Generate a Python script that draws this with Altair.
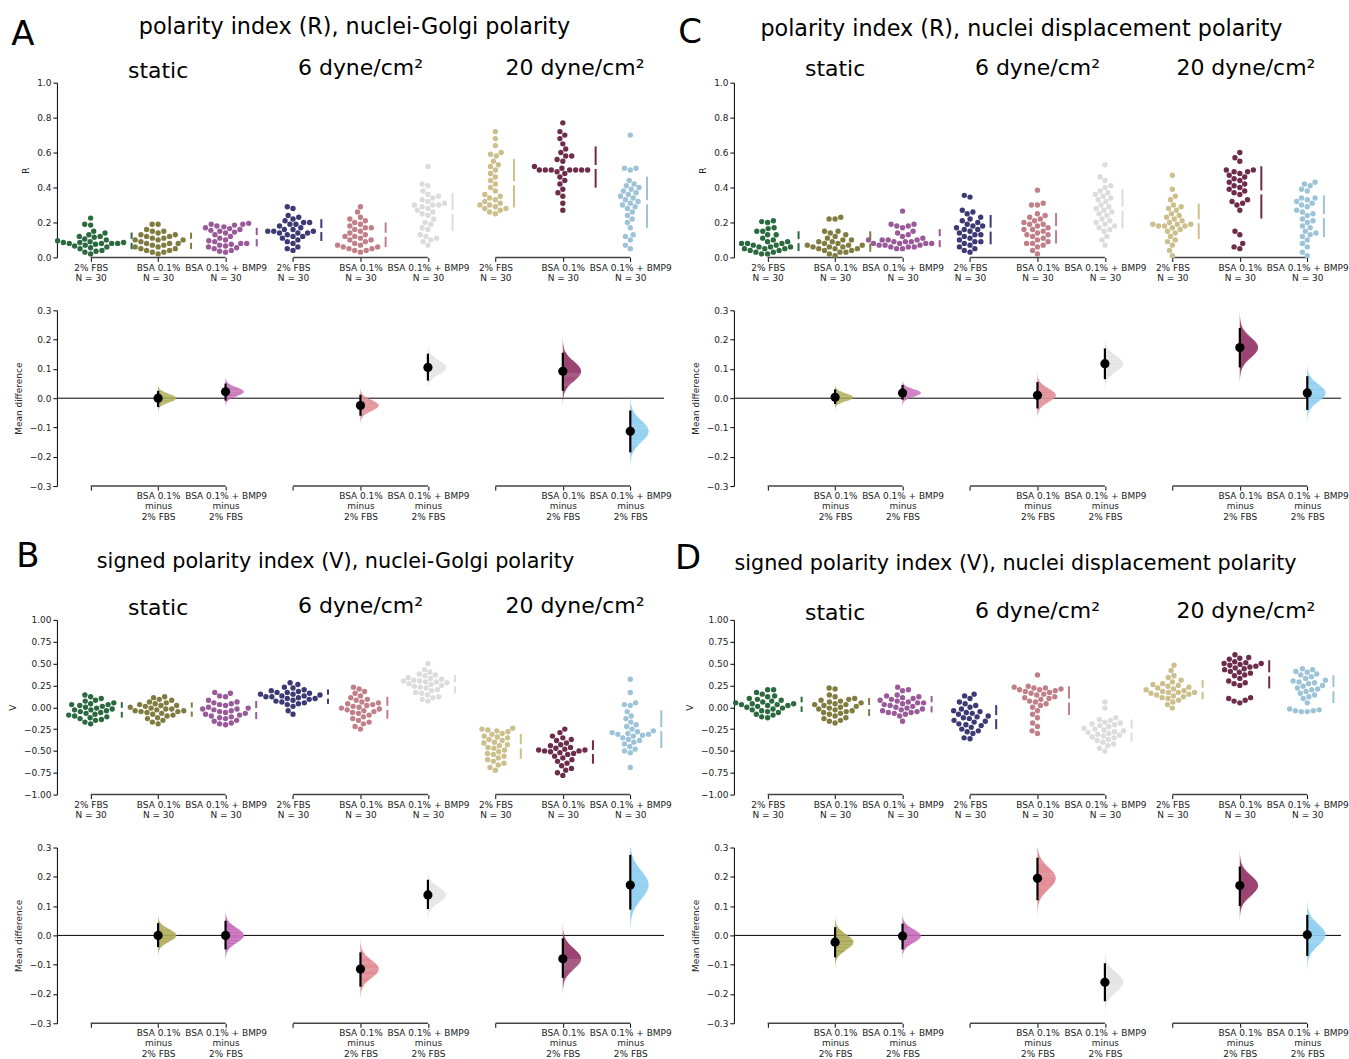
import math
import altair as alt
import pandas as pd

# ---------------- data ----------------
GROUPS = ["2% FBS", "BSA 0.1%", "BSA 0.1% + BMP9"]
CONDITIONS = ["static", "6 dyne/cm²", "20 dyne/cm²"]
N_PER_GROUP = [30, 30, 30, 30, 30, 30, 30, 30, 30]
SWARM_COLORS = ["#2b6a3e", "#807c40", "#9a5a9a", "#3d3975", "#c17f88",
                "#dcdcdc", "#cdbf8c", "#6d2c4b", "#9dc3d8"]
TESTED_IDX = [1, 2, 4, 5, 7, 8]
DIFF_COLORS = ["#aeac5a", "#c66cb9", "#e28f97", "#e4e4e4", "#9c4472", "#95d1f1"]

# Panel A: polarity index (R), nuclei-Golgi polarity
A_static_fbs = [0.225, 0.19, 0.185, 0.15, 0.14, 0.13, 0.12, 0.12, 0.115, 0.105,
                0.10, 0.095, 0.09, 0.085, 0.085, 0.085, 0.08, 0.08, 0.08, 0.08,
                0.075, 0.07, 0.065, 0.06, 0.055, 0.05, 0.04, 0.035, 0.03, 0.02]
A_static_bsa = [0.19, 0.19, 0.16, 0.15, 0.15, 0.14, 0.13, 0.13, 0.12, 0.12,
                0.11, 0.11, 0.10, 0.10, 0.10, 0.09, 0.08, 0.08, 0.08, 0.07,
                0.07, 0.06, 0.06, 0.05, 0.05, 0.04, 0.04, 0.03, 0.03, 0.02]
A_static_bmp = [0.195, 0.19, 0.19, 0.185, 0.18, 0.175, 0.17, 0.165, 0.16, 0.155,
                0.15, 0.145, 0.14, 0.13, 0.12, 0.11, 0.10, 0.095, 0.09, 0.08,
                0.08, 0.075, 0.07, 0.065, 0.06, 0.055, 0.05, 0.04, 0.035, 0.03]
A_6_fbs = [0.29, 0.28, 0.24, 0.23, 0.22, 0.21, 0.20, 0.20, 0.19, 0.19,
           0.18, 0.17, 0.16, 0.16, 0.15, 0.15, 0.15, 0.14, 0.14, 0.14,
           0.13, 0.12, 0.12, 0.11, 0.10, 0.09, 0.08, 0.06, 0.05, 0.04]
A_6_bsa = [0.29, 0.26, 0.23, 0.22, 0.21, 0.20, 0.19, 0.18, 0.17, 0.17,
           0.16, 0.15, 0.14, 0.13, 0.12, 0.12, 0.11, 0.10, 0.10, 0.09,
           0.08, 0.07, 0.07, 0.06, 0.06, 0.05, 0.05, 0.04, 0.04, 0.03]
A_6_bmp = [0.52, 0.42, 0.41, 0.38, 0.36, 0.35, 0.34, 0.33, 0.32, 0.31,
           0.30, 0.30, 0.30, 0.29, 0.28, 0.27, 0.26, 0.25, 0.24, 0.22,
           0.20, 0.19, 0.17, 0.16, 0.13, 0.12, 0.11, 0.10, 0.09, 0.07]
A_20_fbs = [0.72, 0.68, 0.64, 0.60, 0.59, 0.58, 0.55, 0.53, 0.52, 0.50,
            0.48, 0.46, 0.44, 0.42, 0.40, 0.38, 0.36, 0.35, 0.34, 0.33,
            0.32, 0.31, 0.30, 0.30, 0.29, 0.28, 0.28, 0.27, 0.26, 0.25]
A_20_bsa = [0.77, 0.72, 0.70, 0.68, 0.65, 0.62, 0.60, 0.58, 0.58, 0.56,
            0.55, 0.52, 0.51, 0.50, 0.50, 0.50, 0.50, 0.50, 0.50, 0.50,
            0.49, 0.48, 0.46, 0.44, 0.42, 0.39, 0.37, 0.35, 0.31, 0.27]
A_20_bmp = [0.70, 0.51, 0.51, 0.50, 0.44, 0.42, 0.41, 0.40, 0.39, 0.38,
            0.37, 0.36, 0.35, 0.34, 0.33, 0.32, 0.31, 0.30, 0.29, 0.28,
            0.26, 0.24, 0.22, 0.20, 0.17, 0.13, 0.12, 0.10, 0.07, 0.05]
A_diff = [0.000, 0.022, -0.025, 0.105, 0.092, -0.113]
A_lo = [-0.030, -0.008, -0.060, 0.060, 0.025, -0.185]
A_hi = [0.025, 0.050, 0.012, 0.152, 0.155, -0.042]

# Panel B: signed polarity index (V), nuclei-Golgi polarity
B_static_fbs = [0.14, 0.12, 0.10, 0.08, 0.07, 0.05, 0.04, 0.03, 0.03, 0.02,
                0.01, 0.0, -0.01, -0.02, -0.03, -0.03, -0.04, -0.05, -0.06, -0.07,
                -0.08, -0.09, -0.10, -0.11, -0.12, -0.13, -0.14, -0.15, -0.17, -0.19]
B_static_bsa = [0.12, 0.11, 0.09, 0.08, 0.06, 0.05, 0.04, 0.03, 0.02, 0.02,
                0.01, 0.0, -0.01, -0.02, -0.02, -0.03, -0.04, -0.04, -0.05, -0.05,
                -0.06, -0.07, -0.08, -0.09, -0.10, -0.12, -0.13, -0.15, -0.17, -0.19]
B_static_bmp = [0.17, 0.16, 0.13, 0.12, 0.08, 0.06, 0.05, 0.04, 0.03, 0.02,
                0.0, -0.01, -0.02, -0.02, -0.03, -0.04, -0.05, -0.06, -0.07, -0.08,
                -0.09, -0.10, -0.11, -0.12, -0.13, -0.15, -0.16, -0.18, -0.19, -0.20]
B_6_fbs = [0.28, 0.26, 0.23, 0.22, 0.20, 0.19, 0.18, 0.17, 0.17, 0.16,
           0.15, 0.15, 0.14, 0.13, 0.13, 0.12, 0.12, 0.11, 0.10, 0.10,
           0.09, 0.08, 0.07, 0.06, 0.05, 0.04, 0.03, 0.01, -0.04, -0.08]
B_6_bsa = [0.23, 0.21, 0.18, 0.16, 0.13, 0.11, 0.09, 0.08, 0.06, 0.05,
           0.04, 0.03, 0.02, 0.01, 0.0, -0.01, -0.02, -0.03, -0.04, -0.05,
           -0.06, -0.07, -0.09, -0.11, -0.13, -0.15, -0.17, -0.19, -0.22, -0.25]
B_6_bmp = [0.50, 0.43, 0.40, 0.38, 0.37, 0.36, 0.34, 0.33, 0.32, 0.31,
           0.30, 0.30, 0.29, 0.29, 0.28, 0.27, 0.26, 0.25, 0.24, 0.23,
           0.22, 0.20, 0.19, 0.17, 0.16, 0.14, 0.12, 0.11, 0.09, 0.07]
B_20_fbs = [-0.24, -0.25, -0.26, -0.27, -0.28, -0.30, -0.31, -0.33, -0.34, -0.35,
            -0.37, -0.38, -0.40, -0.41, -0.43, -0.44, -0.46, -0.47, -0.49, -0.51,
            -0.53, -0.54, -0.56, -0.58, -0.60, -0.62, -0.64, -0.66, -0.69, -0.72]
B_20_bsa = [-0.25, -0.29, -0.33, -0.35, -0.37, -0.38, -0.41, -0.43, -0.44, -0.46,
            -0.47, -0.48, -0.49, -0.49, -0.50, -0.50, -0.51, -0.52, -0.53, -0.54,
            -0.56, -0.58, -0.60, -0.62, -0.64, -0.67, -0.70, -0.72, -0.75, -0.78]
B_20_bmp = [0.32, 0.17, 0.05, 0.03, 0.02, -0.05, -0.10, -0.13, -0.17, -0.20,
            -0.22, -0.25, -0.27, -0.28, -0.29, -0.30, -0.31, -0.31, -0.32, -0.33,
            -0.35, -0.37, -0.38, -0.40, -0.42, -0.45, -0.48, -0.50, -0.52, -0.69]
B_diff = [0.000, 0.000, -0.115, 0.138, -0.080, 0.172]
B_lo = [-0.040, -0.048, -0.175, 0.090, -0.145, 0.088]
B_hi = [0.042, 0.050, -0.058, 0.190, -0.010, 0.275]

# Panel C: polarity index (R), nuclei displacement polarity
C_static_fbs = [0.21, 0.205, 0.20, 0.17, 0.165, 0.15, 0.15, 0.13, 0.13, 0.11,
                0.10, 0.09, 0.09, 0.08, 0.08, 0.08, 0.07, 0.07, 0.06, 0.06,
                0.06, 0.05, 0.05, 0.05, 0.04, 0.04, 0.03, 0.03, 0.02, 0.02]
C_static_bsa = [0.23, 0.22, 0.22, 0.15, 0.15, 0.14, 0.13, 0.12, 0.11, 0.10,
                0.10, 0.09, 0.09, 0.08, 0.08, 0.07, 0.07, 0.07, 0.06, 0.06,
                0.06, 0.05, 0.05, 0.05, 0.04, 0.04, 0.03, 0.03, 0.02, 0.01]
C_static_bmp = [0.265, 0.19, 0.19, 0.18, 0.18, 0.17, 0.15, 0.14, 0.13, 0.12,
                0.11, 0.10, 0.10, 0.10, 0.10, 0.09, 0.09, 0.09, 0.08, 0.08,
                0.08, 0.08, 0.07, 0.07, 0.07, 0.06, 0.06, 0.06, 0.05, 0.05]
C_6_fbs = [0.355, 0.345, 0.27, 0.26, 0.25, 0.23, 0.22, 0.21, 0.20, 0.19,
           0.18, 0.18, 0.17, 0.16, 0.16, 0.15, 0.14, 0.13, 0.13, 0.12,
           0.11, 0.10, 0.09, 0.09, 0.08, 0.07, 0.06, 0.05, 0.04, 0.03]
C_6_bsa = [0.385, 0.31, 0.30, 0.30, 0.25, 0.24, 0.23, 0.22, 0.21, 0.20,
           0.19, 0.19, 0.18, 0.17, 0.16, 0.16, 0.15, 0.14, 0.13, 0.13,
           0.12, 0.11, 0.10, 0.09, 0.08, 0.08, 0.07, 0.06, 0.04, 0.02]
C_6_bmp = [0.53, 0.46, 0.44, 0.41, 0.40, 0.38, 0.37, 0.36, 0.35, 0.34,
           0.33, 0.32, 0.30, 0.29, 0.28, 0.27, 0.26, 0.25, 0.24, 0.22,
           0.21, 0.20, 0.19, 0.18, 0.17, 0.16, 0.15, 0.12, 0.10, 0.07]
C_20_fbs = [0.47, 0.39, 0.35, 0.33, 0.30, 0.29, 0.28, 0.27, 0.25, 0.24,
            0.23, 0.22, 0.21, 0.20, 0.19, 0.19, 0.19, 0.18, 0.18, 0.18,
            0.17, 0.16, 0.15, 0.14, 0.12, 0.10, 0.09, 0.07, 0.04, 0.01]
C_20_bsa = [0.60, 0.57, 0.55, 0.50, 0.50, 0.49, 0.49, 0.48, 0.47, 0.46,
            0.45, 0.44, 0.43, 0.42, 0.41, 0.40, 0.39, 0.38, 0.37, 0.36,
            0.33, 0.32, 0.31, 0.30, 0.27, 0.15, 0.13, 0.08, 0.06, 0.05]
C_20_bmp = [0.43, 0.42, 0.41, 0.39, 0.38, 0.34, 0.34, 0.33, 0.32, 0.31,
            0.30, 0.29, 0.27, 0.26, 0.25, 0.24, 0.22, 0.21, 0.20, 0.18,
            0.17, 0.15, 0.14, 0.13, 0.12, 0.10, 0.08, 0.06, 0.03, 0.01]
C_diff = [0.003, 0.018, 0.010, 0.118, 0.173, 0.018]
C_lo = [-0.020, -0.005, -0.035, 0.065, 0.105, -0.040]
C_hi = [0.030, 0.045, 0.055, 0.170, 0.240, 0.075]

# Panel D: signed polarity index (V), nuclei displacement polarity
D_static_fbs = [0.20, 0.20, 0.17, 0.15, 0.13, 0.12, 0.10, 0.09, 0.08, 0.07,
                0.06, 0.05, 0.04, 0.04, 0.03, 0.03, 0.02, 0.02, 0.01, 0.0,
                -0.01, -0.02, -0.03, -0.04, -0.05, -0.06, -0.08, -0.09, -0.11, -0.12]
D_static_bsa = [0.22, 0.21, 0.14, 0.12, 0.10, 0.09, 0.08, 0.07, 0.06, 0.05,
                0.04, 0.03, 0.03, 0.02, 0.01, 0.0, -0.01, -0.02, -0.03, -0.04,
                -0.05, -0.06, -0.07, -0.08, -0.10, -0.12, -0.13, -0.15, -0.16, -0.18]
D_static_bmp = [0.23, 0.20, 0.19, 0.14, 0.13, 0.12, 0.11, 0.10, 0.09, 0.08,
                0.07, 0.06, 0.05, 0.05, 0.04, 0.03, 0.02, 0.01, 0.0, -0.01,
                -0.02, -0.03, -0.04, -0.05, -0.06, -0.06, -0.07, -0.08, -0.10, -0.16]
D_6_fbs = [0.15, 0.13, 0.10, 0.06, 0.04, 0.02, 0.0, -0.02, -0.04, -0.05,
           -0.06, -0.07, -0.08, -0.10, -0.11, -0.12, -0.13, -0.15, -0.16, -0.17,
           -0.19, -0.20, -0.21, -0.23, -0.25, -0.27, -0.28, -0.30, -0.35, -0.36]
D_6_bsa = [0.37, 0.24, 0.23, 0.22, 0.22, 0.21, 0.20, 0.20, 0.19, 0.18,
           0.17, 0.16, 0.15, 0.14, 0.12, 0.11, 0.10, 0.09, 0.07, 0.06,
           0.04, 0.02, 0.0, -0.04, -0.08, -0.12, -0.18, -0.22, -0.27, -0.30]
D_6_bmp = [0.06, -0.01, -0.12, -0.14, -0.15, -0.17, -0.18, -0.19, -0.20, -0.21,
           -0.22, -0.24, -0.25, -0.26, -0.27, -0.28, -0.29, -0.30, -0.31, -0.32,
           -0.33, -0.34, -0.35, -0.37, -0.38, -0.40, -0.42, -0.44, -0.47, -0.50]
D_20_fbs = [0.48, 0.42, 0.36, 0.34, 0.31, 0.29, 0.27, 0.26, 0.25, 0.24,
            0.23, 0.22, 0.21, 0.20, 0.19, 0.18, 0.17, 0.17, 0.17, 0.16,
            0.15, 0.14, 0.13, 0.12, 0.11, 0.10, 0.08, 0.06, 0.03, -0.01]
D_20_bsa = [0.60, 0.57, 0.56, 0.55, 0.52, 0.51, 0.50, 0.50, 0.49, 0.48,
            0.47, 0.46, 0.45, 0.44, 0.43, 0.41, 0.40, 0.39, 0.37, 0.36,
            0.33, 0.30, 0.28, 0.27, 0.25, 0.11, 0.10, 0.08, 0.07, 0.05]
D_20_bmp = [0.44, 0.43, 0.41, 0.40, 0.38, 0.37, 0.35, 0.33, 0.31, 0.30,
            0.29, 0.28, 0.27, 0.25, 0.24, 0.22, 0.21, 0.20, 0.18, 0.16,
            0.14, 0.12, 0.10, 0.05, -0.02, -0.03, -0.04, -0.04, -0.05, -0.05]
D_diff = [-0.023, -0.002, 0.195, -0.160, 0.170, 0.002]
D_lo = [-0.075, -0.048, 0.120, -0.225, 0.100, -0.070]
D_hi = [0.028, 0.040, 0.265, -0.095, 0.235, 0.070]

PANELS = [
    dict(letter="A", title="polarity index (R), nuclei-Golgi polarity", ytitle="R",
         ymin=0.0, ymax=1.0, yticks=[0, 0.2, 0.4, 0.6, 0.8, 1.0], fmt=".1f",
         vals=[A_static_fbs, A_static_bsa, A_static_bmp, A_6_fbs, A_6_bsa, A_6_bmp,
               A_20_fbs, A_20_bsa, A_20_bmp],
         diff=A_diff, lo=A_lo, hi=A_hi, title_size=22.3,
         letter_pos=(-34, -38), title_pos=(298, -56), sub_y=[-5, -8, -8],
         sub_x=[1, 4, 7.18]),
    dict(letter="B", title="signed polarity index (V), nuclei-Golgi polarity", ytitle="V",
         ymin=-1.0, ymax=1.0, yticks=[-1, -0.75, -0.5, -0.25, 0, 0.25, 0.5, 0.75, 1.0], fmt=".2f",
         vals=[B_static_fbs, B_static_bsa, B_static_bmp, B_6_fbs, B_6_bsa, B_6_bmp,
               B_20_fbs, B_20_bsa, B_20_bmp],
         diff=B_diff, lo=B_lo, hi=B_hi, title_size=20.8,
         letter_pos=(-29, -53), title_pos=(279, -58), sub_y=[-5, -7, -7],
         sub_x=[1, 4, 7.18]),
    dict(letter="C", title="polarity index (R), nuclei displacement polarity", ytitle="R",
         ymin=0.0, ymax=1.0, yticks=[0, 0.2, 0.4, 0.6, 0.8, 1.0], fmt=".1f",
         vals=[C_static_fbs, C_static_bsa, C_static_bmp, C_6_fbs, C_6_bsa, C_6_bmp,
               C_20_fbs, C_20_bsa, C_20_bmp],
         diff=C_diff, lo=C_lo, hi=C_hi, title_size=22.3,
         letter_pos=(-44, -40), title_pos=(288, -54), sub_y=[-7, -8, -8],
         sub_x=[1, 4, 7.09]),
    dict(letter="D", title="signed polarity index (V), nuclei displacement polarity", ytitle="V",
         ymin=-1.0, ymax=1.0, yticks=[-1, -0.75, -0.5, -0.25, 0, 0.25, 0.5, 0.75, 1.0], fmt=".2f",
         vals=[D_static_fbs, D_static_bsa, D_static_bmp, D_6_fbs, D_6_bsa, D_6_bmp,
               D_20_fbs, D_20_bsa, D_20_bmp],
         diff=D_diff, lo=D_lo, hi=D_hi, title_size=20.8,
         letter_pos=(-46, -51), title_pos=(282, -56), sub_y=[0, -2, -2],
         sub_x=[1, 4, 7.09]),
]

W, H, EH = 608, 175, 176
STEP = W / 9.0
FONT = "DejaVu Sans"
DOT_D = 6.0


def swarm_offsets(vals, ymin, ymax):
    """Beeswarm layout in pixel space; returns horizontal offsets in pixels."""
    py = [(v - ymin) / (ymax - ymin) * H for v in vals]
    order = sorted(range(len(vals)), key=lambda i: py[i])
    placed = []
    xs = [0.0] * len(vals)
    for i in order:
        y = py[i]
        cands = [0.0]
        for qx, qy in placed:
            dy = abs(y - qy)
            if dy < DOT_D:
                dx = math.sqrt(DOT_D * DOT_D - dy * dy)
                cands += [qx + dx, qx - dx]
        cands.sort(key=lambda c: (abs(c), c))
        for c in cands:
            if all((c - qx) ** 2 + (y - qy) ** 2 >= DOT_D * DOT_D - 1e-6 for qx, qy in placed):
                xs[i] = c
                placed.append((c, y))
                break
    return xs


def js_list(items):
    return "[" + ",".join("'" + str(s) + "'" for s in items) + "]"


def build_panel(p, anchor=False):
    ymin, ymax = p["ymin"], p["ymax"]
    xs = alt.Scale(domain=[-0.5, 8.5], nice=False, zero=False)
    ys = alt.Scale(domain=[ymin, ymax], nice=False, zero=False)

    sw_label = ("[" + js_list(GROUPS) + "[datum.value % 3], 'N = ' + "
                + "[" + ",".join(str(n) for n in N_PER_GROUP) + "][datum.value]]")
    xaxis = alt.Axis(values=list(range(9)), labelExpr=sw_label, domain=False, tickSize=4,
                     labelPadding=2, title=None, labelAngle=0, labelOverlap=False,
                     labelFlush=False, labelBound=False, labelLineHeight=10, grid=False)
    yaxis = alt.Axis(values=p["yticks"], format=p["fmt"], title=p["ytitle"], tickSize=4,
                     labelPadding=2, grid=False, titlePadding=6)

    pts, sds = [], []
    gap = 2.0 * (ymax - ymin) / H
    for gi, vals in enumerate(p["vals"]):
        offs = swarm_offsets(vals, ymin, ymax)
        for v, o in zip(vals, offs):
            pts.append({"gi": gi, "v": v, "x": gi + o / STEP, "c": SWARM_COLORS[gi]})
        n = len(vals)
        m = sum(vals) / n
        s = math.sqrt(sum((v - m) ** 2 for v in vals) / (n - 1))
        lx = gi + (max(offs) + 8.0) / STEP
        sds.append({"lx": lx, "y1": m - s, "y2": m - gap, "c": SWARM_COLORS[gi]})
        sds.append({"lx": lx, "y1": m + gap, "y2": m + s, "c": SWARM_COLORS[gi]})

    brackets = pd.DataFrame({"s": [0, 3, 6], "e": [2, 5, 8], "b": [ymin] * 3})

    points = alt.Chart(pd.DataFrame(pts)).mark_circle(size=29, opacity=1).encode(
        x=alt.X("x:Q", scale=xs, axis=xaxis),
        y=alt.Y("v:Q", scale=ys, axis=yaxis),
        color=alt.Color("c:N", scale=None),
    )
    sdl = alt.Chart(pd.DataFrame(sds)).mark_rule(strokeWidth=2).encode(
        x=alt.X("lx:Q", scale=xs, axis=xaxis),
        y=alt.Y("y1:Q", scale=ys, axis=yaxis), y2="y2:Q",
        color=alt.Color("c:N", scale=None),
    )
    br = alt.Chart(brackets).mark_rule(strokeWidth=1.5, color="#444").encode(
        x=alt.X("s:Q", scale=xs, axis=xaxis), x2="e:Q",
        y=alt.Y("b:Q", scale=ys, axis=yaxis),
    )
    sub_layers = []
    for k in range(3):
        sub_layers.append(
            alt.Chart(pd.DataFrame({"t": [CONDITIONS[k]], "cx": [p["sub_x"][k]]})).mark_text(
                font=FONT, fontSize=22, baseline="alphabetic", align="center", color="black"
            ).encode(x=alt.X("cx:Q", scale=xs, axis=xaxis), y=alt.value(p["sub_y"][k]), text="t:N")
        )
    letter = alt.Chart(pd.DataFrame({"t": [p["letter"]]})).mark_text(
        font=FONT, fontSize=34, baseline="alphabetic", align="center", color="black"
    ).encode(x=alt.value(p["letter_pos"][0]), y=alt.value(p["letter_pos"][1]), text="t:N")
    title = alt.Chart(pd.DataFrame({"t": [p["title"]]})).mark_text(
        font=FONT, fontSize=p["title_size"], baseline="middle", align="center", color="black"
    ).encode(x=alt.value(p["title_pos"][0]), y=alt.value(p["title_pos"][1]), text="t:N")

    layers = [br, points, sdl] + sub_layers + [letter, title]
    if anchor:
        layers.append(
            alt.Chart(pd.DataFrame({"t": [0]})).mark_point(size=1, opacity=0).encode(
                x=alt.value(-56), y=alt.value(-81))
        )
    swarm = alt.layer(*layers).properties(width=W, height=H)

    # ---------- estimation (mean difference) plot ----------
    es = alt.Scale(domain=[-0.3, 0.3], nice=False, zero=False)
    est_label = ("datum.value % 3 == 0 ? '' : [" + js_list(GROUPS) + "[datum.value % 3], 'minus', '"
                 + GROUPS[0] + "']")
    exaxis = alt.Axis(values=list(range(9)), labelExpr=est_label, domain=False, tickSize=4,
                      labelPadding=1, title=None, labelAngle=0, labelOverlap=False,
                      labelFlush=False, labelBound=False, labelLineHeight=10.5, grid=False)
    eyaxis = alt.Axis(values=[-0.3, -0.2, -0.1, 0, 0.1, 0.2, 0.3], format=".1f",
                      title="Mean difference", tickSize=4, labelPadding=2, grid=False,
                      titlePadding=6)

    est = pd.DataFrame({"idx": TESTED_IDX, "diff": p["diff"], "lo": p["lo"], "hi": p["hi"],
                        "c": DIFF_COLORS})
    # half-violin of the bootstrap distribution, drawn as thin horizontal slices
    vrows = []
    for j in range(len(TESTED_IDX)):
        for k in range(81):
            vrows.append({"comp": j, "k": k, "idx": TESTED_IDX[j], "diff": p["diff"][j],
                          "lo": p["lo"][j], "hi": p["hi"][j], "c": DIFF_COLORS[j]})
    violins = alt.Chart(pd.DataFrame(vrows)).transform_calculate(
        z="(datum.k - 40) / 10",
        sd="(datum.hi - datum.lo) / 3.92",
    ).transform_calculate(
        y0="datum.diff + (datum.z - 0.07) * datum.sd",
        y1="datum.diff + (datum.z + 0.07) * datum.sd",
        x1="datum.idx + 0.27 * exp(-0.5 * datum.z * datum.z)",
    ).mark_bar(opacity=1, clip=True, strokeWidth=0).encode(
        y=alt.Y("y0:Q", scale=es, axis=eyaxis), y2="y1:Q",
        x=alt.X("idx:Q", scale=xs, axis=exaxis), x2="x1:Q",
        color=alt.Color("c:N", scale=None),
    )
    zero = alt.Chart(pd.DataFrame({"a": [-0.5], "b": [8.5], "z": [0.0]})).mark_rule(
        color="black", strokeWidth=1).encode(
        x=alt.X("a:Q", scale=xs, axis=exaxis), x2="b:Q",
        y=alt.Y("z:Q", scale=es, axis=eyaxis))
    ebr = alt.Chart(pd.DataFrame({"s": [0, 3, 6], "e": [2, 5, 8], "b": [-0.3] * 3})).mark_rule(
        strokeWidth=1.5, color="#444").encode(
        x=alt.X("s:Q", scale=xs, axis=exaxis), x2="e:Q",
        y=alt.Y("b:Q", scale=es, axis=eyaxis))
    ci = alt.Chart(est).mark_rule(color="black", strokeWidth=2.2).encode(
        x=alt.X("idx:Q", scale=xs, axis=exaxis),
        y=alt.Y("lo:Q", scale=es, axis=eyaxis), y2="hi:Q")
    dots = alt.Chart(est).mark_circle(color="black", size=85, opacity=1).encode(
        x=alt.X("idx:Q", scale=xs, axis=exaxis),
        y=alt.Y("diff:Q", scale=es, axis=eyaxis))
    estimation = alt.layer(ebr, zero, violins, ci, dots).properties(width=W, height=EH)

    return swarm, estimation


def spacer(h):
    return alt.Chart(pd.DataFrame({"t": [0]})).mark_point(size=1, opacity=0).encode(
        x=alt.value(0), y=alt.value(0)).properties(width=W, height=h)


sA, eA = build_panel(PANELS[0], anchor=True)
sB, eB = build_panel(PANELS[1])
sC, eC = build_panel(PANELS[2])
sD, eD = build_panel(PANELS[3])

chart = alt.concat(
    sA, sC, eA, eC, spacer(28), spacer(28), sB, sD, eB, eD,
    columns=2, spacing={"row": 53, "column": 70}, bounds="flush",
).properties(padding=0, background="white").configure_view(stroke=None).configure_axis(
    grid=False, labelFont=FONT, titleFont=FONT, labelFontSize=9, titleFontSize=9,
    titleFontWeight="normal", domainColor="black", tickColor="black",
    labelColor="#222", titleColor="#222", domainWidth=1, tickWidth=1,
)

chart.save("out.html", embed_options={"renderer": "svg", "actions": False})
